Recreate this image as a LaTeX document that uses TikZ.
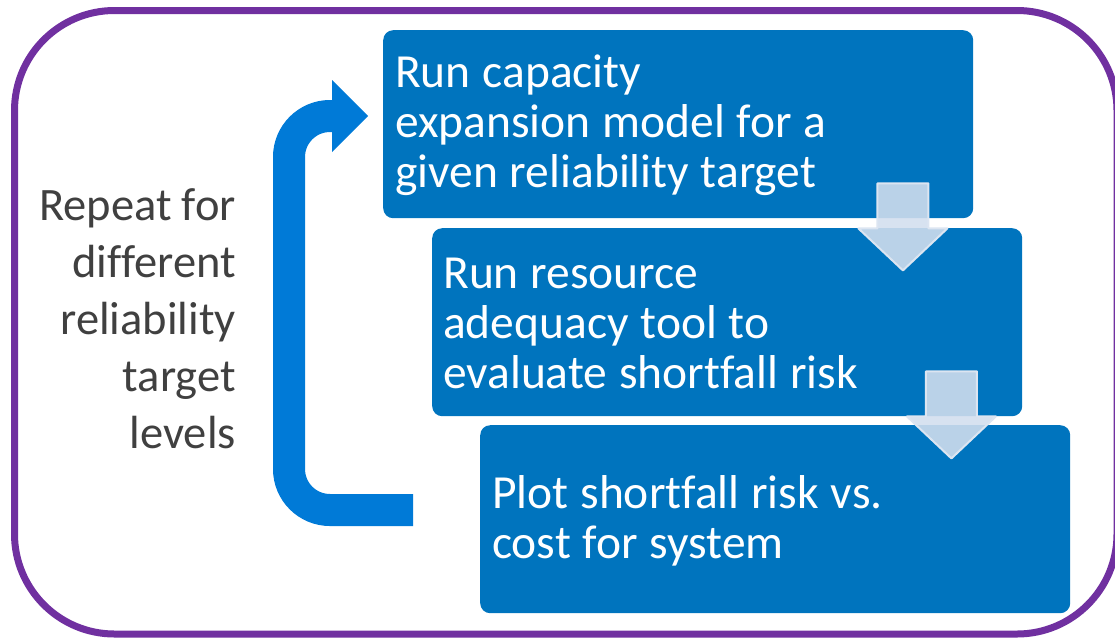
\documentclass[tikz,border=0pt]{standalone}
\usepackage{fontspec}
\setmainfont[Ligatures=NoCommon]{Carlito}
\usetikzlibrary{calc}

\definecolor{framepurple}{RGB}{112,48,160}
\definecolor{stepblue}{RGB}{0,116,190}
\definecolor{loopblue}{RGB}{0,122,215}
\definecolor{notegray}{RGB}{64,64,64}
\definecolor{flowfill}{RGB}{210,222,238}
\definecolor{flowedge}{RGB}{220,229,241}

\newcommand\stepspaces{\spaceskip=0.25em plus 0.1em\relax}
\newcommand\notespaces{\spaceskip=0.19em plus 0.1em\relax}

\begin{document}
\begin{tikzpicture}[x=1pt,y=-1pt,
  stepbox/.style={fill=stepblue, rounded corners=10pt, inner sep=0pt,
    anchor=north west, minimum width=590pt, minimum height=188pt},
  steptext/.style={text=white, anchor=base west, inner sep=0pt, align=left,
    text width=570pt, font=\fontsize{47.5}{50}\selectfont,
    execute at begin node=\stepspaces},
  notetext/.style={text=notegray, anchor=base east, inner sep=0pt, align=right,
    text width=220pt, font=\fontsize{46.5}{57}\selectfont,
    execute at begin node=\notespaces},
  loopstroke/.style={draw=loopblue, line width=32pt, rounded corners=41pt},
  flowarrow/.pic={
    \filldraw[fill=flowfill, fill opacity=0.89, draw=flowedge, line width=2pt,
      line join=round]
      (-25.5,0) -- (25.5,0) -- (25.5,45) -- (44.5,45) -- (0,87)
      -- (-44.5,45) -- (-25.5,45) -- cycle;
  }
]
\clip (0,0) rectangle (1115,638);
\useasboundingbox (0,0) rectangle (1115,638);

% outer frame
\draw[framepurple, line width=7pt, rounded corners=100pt]
  (14.5,10.5) rectangle (1117,634);

% process steps
\node[stepbox] (s1) at (383,30) {};
\node[stepbox] (s2) at (432,228) {};
\node[stepbox] (s3) at (480,425) {};

\node[steptext] (t1) at (395,87) {Run capacity\\expansion model for a\\given reliability target};
\node[steptext] (t2) at (443,288) {Run resource\\adequacy tool to\\evaluate shortfall risk};
\node[steptext] (t3) at (492,508) {Plot shortfall risk vs.\\cost for system};

% block arrows between the steps
\pic at ($(s1.south east)+(-70.5,-35)$) {flowarrow};
\pic at ($(s2.south east)+(-71,-45)$) {flowarrow};

% repeat loop
\coordinate (loopin) at (413,510);
\coordinate (loopout) at (333,116);
\draw[loopstroke] (loopin) -- (289,510) -- (289,116) -- (loopout);
\fill[loopblue] ($(loopout)+(-1,-36)$) -- ($(s1.west |- loopout)+(-15,0)$)
  -- ($(loopout)+(-1,36)$) -- cycle;

% side note
\node[notetext] (note) at (236,220) {Repeat for\\different\\reliability\\target\\levels};
\end{tikzpicture}
\end{document}
